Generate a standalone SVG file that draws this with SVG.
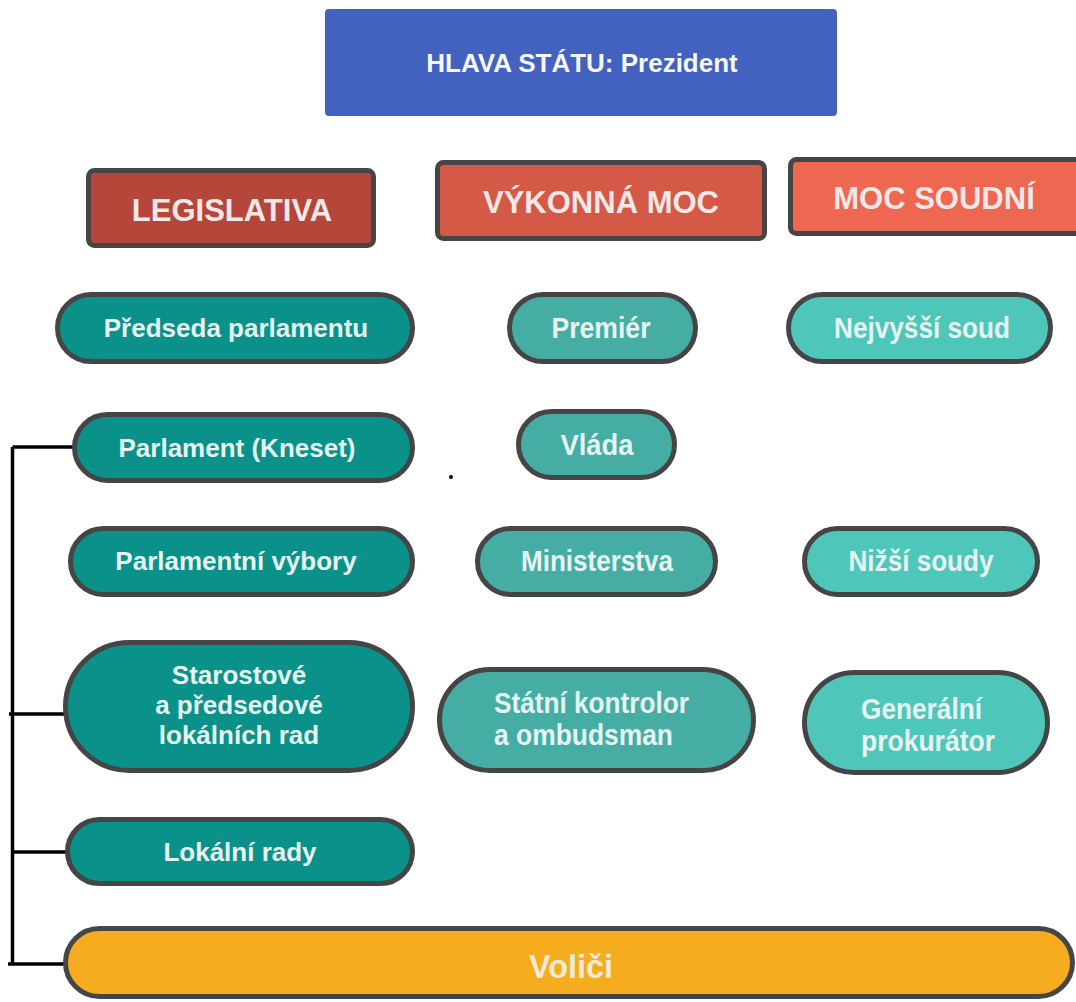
<svg xmlns="http://www.w3.org/2000/svg" width="1076" height="1002" viewBox="0 0 1076 1002">
<style>
  text { font-family: "Liberation Sans", Arial, sans-serif; font-weight: bold; }
  .pill { stroke: #454545; stroke-width: 5; }
  .l { fill: #0A9189; }
  .m { fill: #45ADA4; }
  .r { fill: #4FC6BA; }
  .pt { font-size: 26px; fill: #E6F5F2; text-anchor: middle; }
  .nt { font-size: 29px; fill: #E6F5F2; text-anchor: middle; }
  .ntl { font-size: 29px; fill: #E6F5F2; }
  .hd { stroke: #454545; stroke-width: 5; }
  .ht { font-size: 31px; fill: #F3E8E8; text-anchor: middle; }
  .conn { stroke: #000; stroke-width: 3.5; fill: none; }
</style>
<rect width="1076" height="1002" fill="#FFFFFF"/>

<g id="connectors">
  <path class="conn" d="M12.5 447 V964"/>
  <path class="conn" d="M12.5 447 H75"/>
  <path class="conn" d="M9 714 H66"/>
  <path class="conn" d="M12.5 852 H67"/>
  <path class="conn" d="M8 964 H66"/>
  <circle cx="451" cy="477" r="2" fill="#000"/>
</g>

<g id="head-of-state">
  <rect x="325" y="9" width="512" height="107" rx="4" fill="#4361BE"/>
  <text x="582" y="72" fill="#F5F7FC" text-anchor="middle" style="font-size:26px">HLAVA STÁTU: Prezident</text>
</g>

<g id="legislativa">
  <rect class="hd" x="88.5" y="170.5" width="285" height="75" rx="6" fill="#B4473A"/>
  <text class="ht" x="232" y="221">LEGISLATIVA</text>
</g>
<g id="vykonna-moc">
  <rect class="hd" x="437.5" y="162.5" width="327" height="76" rx="6" fill="#D45A47"/>
  <text class="ht" x="601" y="213">VÝKONNÁ MOC</text>
</g>
<g id="moc-soudni">
  <rect class="hd" x="790.5" y="159.5" width="300" height="74" rx="6" fill="#EE6751"/>
  <text class="ht" x="934" y="209">MOC SOUDNÍ</text>
</g>

<g id="predseda-parlamentu">
  <rect class="pill l" x="57.5" y="294.5" width="355" height="67" rx="33.5"/>
  <text class="pt" x="236" y="337">Předseda parlamentu</text>
</g>
<g id="premier">
  <rect class="pill m" x="509.5" y="294.5" width="186" height="67" rx="33.5"/>
  <text class="nt" x="601" y="338" textLength="99" lengthAdjust="spacingAndGlyphs">Premiér</text>
</g>
<g id="nejvyssi-soud">
  <rect class="pill r" x="788.5" y="294.5" width="262" height="67" rx="33.5"/>
  <text class="nt" x="922" y="338" textLength="176" lengthAdjust="spacingAndGlyphs">Nejvyšší soud</text>
</g>

<g id="parlament">
  <rect class="pill l" x="74.5" y="414.5" width="338" height="66" rx="33"/>
  <text class="pt" x="237" y="457">Parlament (Kneset)</text>
</g>
<g id="vlada">
  <rect class="pill m" x="518.5" y="411.5" width="156" height="66" rx="33"/>
  <text class="nt" x="597" y="455" textLength="73" lengthAdjust="spacingAndGlyphs">Vláda</text>
</g>

<g id="parlamentni-vybory">
  <rect class="pill l" x="70.5" y="528.5" width="342" height="66" rx="33"/>
  <text class="pt" x="236" y="570">Parlamentní výbory</text>
</g>
<g id="ministerstva">
  <rect class="pill m" x="477.5" y="528.5" width="238" height="66" rx="33"/>
  <text class="nt" x="597" y="571" textLength="152" lengthAdjust="spacingAndGlyphs">Ministerstva</text>
</g>
<g id="nizsi-soudy">
  <rect class="pill r" x="804.5" y="528.5" width="233" height="66" rx="33"/>
  <text class="nt" x="921" y="571" textLength="145" lengthAdjust="spacingAndGlyphs">Nižší soudy</text>
</g>

<g id="starostove">
  <rect class="pill l" x="65.5" y="642.5" width="347" height="128" rx="64"/>
  <text class="pt" x="239" y="684">Starostové</text>
  <text class="pt" x="239" y="714">a předsedové</text>
  <text class="pt" x="239" y="744">lokálních rad</text>
</g>
<g id="statni-kontrolor">
  <rect class="pill m" x="439.5" y="669.5" width="314" height="101" rx="50.5"/>
  <text class="ntl" x="494" y="713" textLength="195" lengthAdjust="spacingAndGlyphs">Státní kontrolor</text>
  <text class="ntl" x="494" y="745" textLength="179" lengthAdjust="spacingAndGlyphs">a ombudsman</text>
</g>
<g id="generalni-prokurator">
  <rect class="pill r" x="804.5" y="672.5" width="243" height="100" rx="50"/>
  <text class="ntl" x="861" y="719" textLength="121" lengthAdjust="spacingAndGlyphs">Generální</text>
  <text class="ntl" x="861" y="751" textLength="134" lengthAdjust="spacingAndGlyphs">prokurátor</text>
</g>

<g id="lokalni-rady">
  <rect class="pill l" x="67.5" y="819.5" width="345" height="64" rx="32"/>
  <text class="pt" x="240" y="861">Lokální rady</text>
</g>

<g id="volici">
  <rect class="pill" x="65.5" y="928.5" width="1007" height="68" rx="34" fill="#F5AC1E"/>
  <text x="571" y="978" fill="#F3EBD8" text-anchor="middle" textLength="84" lengthAdjust="spacingAndGlyphs" style="font-size:33px">Voliči</text>
</g>
</svg>
